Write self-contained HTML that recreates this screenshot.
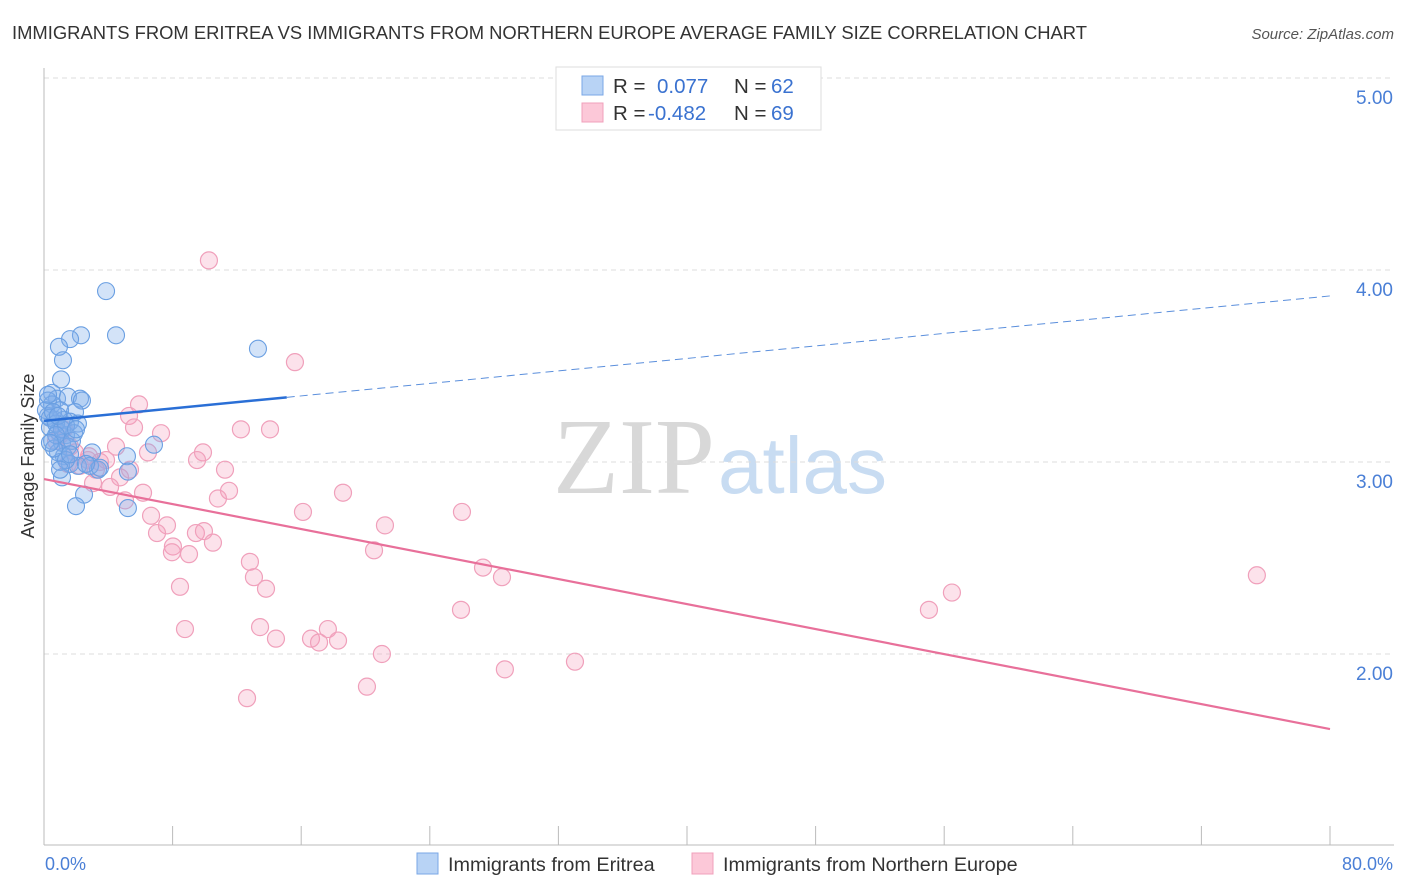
<!DOCTYPE html>
<html><head><meta charset="utf-8"><style>
body{margin:0;background:#fff;font-family:"Liberation Sans",sans-serif;}
#wrap{position:relative;width:1406px;height:892px;overflow:hidden;}
</style></head><body>
<div id="wrap">
<svg id="svg" width="1406" height="892" xmlns="http://www.w3.org/2000/svg">
<text x="12" y="39" font-size="18.4" fill="#333">IMMIGRANTS FROM ERITREA VS IMMIGRANTS FROM NORTHERN EUROPE AVERAGE FAMILY SIZE CORRELATION CHART</text>
<text x="1394" y="39" font-size="15" fill="#555" font-style="italic" text-anchor="end">Source: ZipAtlas.com</text>
<text x="553" y="493" font-size="108" fill="#d8d8d8" font-family="Liberation Serif,serif">ZIP</text>
<text x="718" y="493" font-size="80" fill="#c8dcf2">atlas</text>
<g id="grid"></g>
<line x1="44" y1="68" x2="44" y2="845" stroke="#bbb" stroke-width="1"/>
<line x1="44" y1="845" x2="1394" y2="845" stroke="#bbb" stroke-width="1"/>
<g id="ticks"></g>
<text transform="translate(34,456) rotate(-90)" font-size="18" fill="#333" text-anchor="middle">Average Family Size</text>
<text x="45" y="870" font-size="18" fill="#4a7fd6">0.0%</text>
<text x="1393" y="870" font-size="18" fill="#4a7fd6" text-anchor="end">80.0%</text>
<g id="pts"></g>
<g id="lines"></g>
<g>
<rect x="556" y="67" width="265" height="63" fill="#fff" stroke="#ddd"/>
<rect x="582" y="76" width="21" height="19" fill="#b8d3f5" stroke="#7aa7e6"/>
<rect x="582" y="103" width="21" height="19" fill="#fcc8d8" stroke="#f0a0bb"/>
<text x="613" y="93" font-size="20.5" fill="#333">R = </text><text x="657" y="93" font-size="20.5" fill="#3a72d0">0.077</text>
<text x="734" y="93" font-size="20.5" fill="#333">N = </text><text x="771" y="93" font-size="20.5" fill="#3a72d0">62</text>
<text x="613" y="120" font-size="20.5" fill="#333">R = </text><text x="648" y="120" font-size="20.5" fill="#3a72d0">-0.482</text>
<text x="734" y="120" font-size="20.5" fill="#333">N = </text><text x="771" y="120" font-size="20.5" fill="#3a72d0">69</text>
</g>
<g>
<rect x="417" y="853" width="21" height="21" fill="#b8d3f5" stroke="#7aa7e6"/>
<text x="448" y="871" font-size="19.8" fill="#333">Immigrants from Eritrea</text></g>
<g>
<rect x="692" y="853" width="21" height="21" fill="#fcc8d8" stroke="#f0a0bb"/>
<text x="723" y="871" font-size="19.8" fill="#333">Immigrants from Northern Europe</text></g>
</svg></div>
<script>
const yTicks=[2,3,4,5];
const yTickLabels=["2.00","3.00","4.00","5.00"];
const blueX=[3.86,4.48,2.30,1.62,0.93,1.18,1.06,13.31,0.50,0.81,1.49,2.24,2.36,0.25,0.50,1.00,1.93,0.25,0.68,1.24,1.62,2.11,0.37,0.87,1.37,1.87,0.50,1.12,1.49,6.84,2.99,5.16,0.87,1.24,1.00,1.62,2.11,3.36,5.22,1.12,2.49,1.99,5.22,0.12,0.37,0.75,1.12,1.74,0.62,1.37,2.86,3.48,0.25,0.56,0.87,1.37,1.99,1.00,2.61,1.62,0.75,0.37];
const blueY=[3.89,3.66,3.66,3.64,3.60,3.53,3.43,3.59,3.36,3.33,3.34,3.33,3.32,3.32,3.30,3.27,3.26,3.24,3.22,3.22,3.21,3.20,3.18,3.16,3.14,3.15,3.11,3.10,3.08,3.09,3.05,3.03,3.05,3.03,3.00,2.99,2.98,2.96,2.95,2.92,2.83,2.77,2.76,3.27,3.23,3.20,3.17,3.11,3.07,3.01,2.98,2.97,3.35,3.26,3.24,3.19,3.17,2.96,2.99,3.04,3.14,3.10];
const pinkX=[10.26,15.61,5.91,5.29,5.60,7.28,12.25,14.06,4.48,6.47,9.89,9.52,11.26,2.80,3.86,1.49,2.24,3.23,4.73,4.11,6.16,11.51,10.82,18.60,3.05,5.04,6.66,7.65,7.03,16.11,21.21,26.00,9.45,9.95,10.51,8.02,9.02,7.96,20.53,12.81,13.06,13.81,8.46,27.31,28.49,25.94,13.44,8.77,14.43,16.61,17.11,17.66,18.29,21.02,28.67,33.03,20.09,12.63,55.05,56.48,75.45,1.00,1.93,2.74,3.48,5.35,1.24,0.75,1.62];
const pinkY=[4.05,3.52,3.30,3.24,3.18,3.15,3.17,3.17,3.08,3.05,3.05,3.01,2.96,3.03,3.01,2.99,2.98,2.96,2.92,2.87,2.84,2.85,2.81,2.84,2.89,2.80,2.72,2.67,2.63,2.74,2.67,2.74,2.63,2.64,2.58,2.56,2.52,2.53,2.54,2.48,2.40,2.34,2.35,2.45,2.40,2.23,2.14,2.13,2.08,2.08,2.06,2.13,2.07,2.00,1.92,1.96,1.83,1.77,2.23,2.32,2.41,3.14,3.05,3.01,3.00,2.96,3.17,3.11,3.08];
const blueTrend=[3.214,3.865];
const blueSolidEnd=15.1;
const pinkTrend=[2.911,1.609];
const NS="http://www.w3.org/2000/svg";
const X=v=>44+v/80*1286;
const Y=v=>78+(5-v)*192;
function mk(t,a,p){const e=document.createElementNS(NS,t);for(const k in a)e.setAttribute(k,a[k]);p.appendChild(e);return e;}
const grid=document.getElementById('grid');
yTicks.forEach((t,i)=>{
 const l=mk('line',{x1:44,x2:1394,y1:Y(t),y2:Y(t),stroke:'#ddd','stroke-dasharray':'5,4'},grid);
 
 
 const tx=mk('text',{x:1393,y:Y(t)+26,'font-size':19,fill:'#4a7fd6','text-anchor':'end'},grid);
 tx.textContent=yTickLabels[i];
 
 
});
const ticks=document.getElementById('ticks');
for(let i=1;i<=10;i++){
 const l=mk('line',{x1:X(i*8),x2:X(i*8),y1:826,y2:845,stroke:'#bbb'},ticks);
 
 
}
const pts=document.getElementById('pts');
pinkX.forEach((x,i)=>{
 const c=mk('circle',{cx:X(x),cy:Y(pinkY[i]),r:8.5,fill:'rgba(245,160,190,0.3)',stroke:'#f0a0bb','stroke-width':1.2},pts);
 
 
});
blueX.forEach((x,i)=>{
 const c=mk('circle',{cx:X(x),cy:Y(blueY[i]),r:8.5,fill:'rgba(130,175,235,0.35)',stroke:'#6a9fe2','stroke-width':1.1},pts);
 
 
});
const lines=document.getElementById('lines');
const bAt=x=>blueTrend[0]+(blueTrend[1]-blueTrend[0])*x/80;
let l1=mk('line',{x1:X(0),y1:Y(bAt(0)),x2:X(blueSolidEnd),y2:Y(bAt(blueSolidEnd)),stroke:'#2a6fd6','stroke-width':2.5},lines);


let l2=mk('line',{x1:X(blueSolidEnd),y1:Y(bAt(blueSolidEnd)),x2:X(80),y2:Y(bAt(80)),stroke:'#5b8fdc','stroke-width':1,'stroke-dasharray':'8,5'},lines);


let l3=mk('line',{x1:X(0),y1:Y(pinkTrend[0]),x2:X(80),y2:Y(pinkTrend[1]),stroke:'#e8709a','stroke-width':2.2},lines);


</script>
</body></html>
